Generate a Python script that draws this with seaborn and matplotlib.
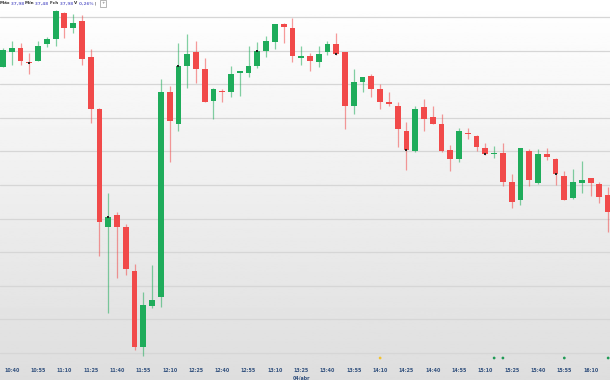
import numpy as np
import pandas as pd
import matplotlib
matplotlib.use("Agg")
import matplotlib.pyplot as plt
import seaborn as sns

# ---------------- data (5-minute candles, 04/abr) ----------------
opens = [37.876, 37.898, 37.904, 37.883, 37.885, 37.910, 37.917, 37.956, 37.934, 37.944,
         37.891, 37.813, 37.638, 37.655, 37.638, 37.572, 37.459, 37.520, 37.533, 37.838,
         37.791, 37.877, 37.898, 37.873, 37.825, 37.840, 37.838, 37.867, 37.867, 37.877,
         37.899, 37.913, 37.940, 37.934, 37.889, 37.892, 37.883, 37.898, 37.910, 37.898,
         37.818, 37.853, 37.862, 37.843, 37.824, 37.818, 37.780, 37.751, 37.816, 37.801,
         37.791, 37.752, 37.739, 37.777, 37.773, 37.755, 37.746, 37.748, 37.704, 37.678,
         37.751, 37.703, 37.746, 37.739, 37.713, 37.681, 37.703, 37.710, 37.702, 37.685]
highs = [37.904, 37.914, 37.911, 37.896, 37.914, 37.920, 37.960, 37.957, 37.954, 37.953,
         37.902, 37.815, 37.688, 37.660, 37.642, 37.582, 37.541, 37.581, 37.858, 37.847,
         37.911, 37.925, 37.914, 37.889, 37.844, 37.843, 37.877, 37.868, 37.907, 37.913,
         37.922, 37.940, 37.941, 37.949, 37.907, 37.896, 37.907, 37.914, 37.926, 37.898,
         37.873, 37.861, 37.865, 37.850, 37.838, 37.824, 37.794, 37.818, 37.828, 37.818,
         37.806, 37.760, 37.785, 37.785, 37.774, 37.763, 37.758, 37.763, 37.716, 37.755,
         37.754, 37.754, 37.755, 37.740, 37.721, 37.724, 37.736, 37.710, 37.704, 37.697]
lows = [37.876, 37.879, 37.879, 37.865, 37.885, 37.905, 37.907, 37.919, 37.926, 37.879,
        37.792, 37.594, 37.510, 37.562, 37.566, 37.455, 37.446, 37.517, 37.518, 37.734,
        37.780, 37.844, 37.852, 37.824, 37.798, 37.824, 37.831, 37.832, 37.861, 37.874,
        37.891, 37.902, 37.911, 37.883, 37.879, 37.870, 37.876, 37.893, 37.893, 37.783,
        37.806, 37.838, 37.831, 37.813, 37.818, 37.757, 37.722, 37.749, 37.780, 37.791,
        37.749, 37.721, 37.734, 37.768, 37.751, 37.745, 37.740, 37.699, 37.666, 37.670,
        37.699, 37.702, 37.737, 37.700, 37.678, 37.679, 37.688, 37.684, 37.673, 37.630]
closes = [37.901, 37.904, 37.885, 37.881, 37.907, 37.917, 37.959, 37.934, 37.941, 37.888,
          37.813, 37.645, 37.652, 37.638, 37.575, 37.459, 37.521, 37.529, 37.838, 37.795,
          37.877, 37.895, 37.873, 37.824, 37.843, 37.838, 37.865, 37.868, 37.877, 37.899,
          37.914, 37.940, 37.935, 37.892, 37.892, 37.885, 37.895, 37.910, 37.895, 37.818,
          37.853, 37.861, 37.843, 37.824, 37.821, 37.783, 37.752, 37.813, 37.798, 37.791,
          37.751, 37.739, 37.780, 37.776, 37.757, 37.746, 37.748, 37.704, 37.675, 37.755,
          37.707, 37.746, 37.742, 37.716, 37.678, 37.704, 37.707, 37.703, 37.682, 37.660]

tick_labels = ["10:40", "10:55", "11:10", "11:25", "11:40", "11:55", "12:10", "12:25",
               "12:40", "12:55", "13:10", "13:25", "13:40", "13:55", "14:10", "14:25",
               "14:40", "14:55", "15:10", "15:25", "15:40", "15:55", "16:10"]
date_label = "04/abr"
date_label_time = "13:25"

# candles with a dark close marker
marked_candles = [3, 12, 20, 29, 38, 46, 55, 63]
# event markers under the axis
event_candles = [43, 56, 57, 64, 69]
event_kinds = ["warn", "ok", "ok", "ok", "ok"]

header = [("Máx ", "#333333"), ("37,98 ", "#6f6fd0"), ("Mín ", "#333333"),
          ("37,48 ", "#6f6fd0"), ("Fch ", "#333333"), ("37,98 ", "#6f6fd0"),
          ("V ", "#333333"), ("0,26% ", "#6f6fd0"), ("|", "#555555")]

# ---------------- build table ----------------
times = pd.date_range("10:35", periods=len(opens), freq="5min").strftime("%H:%M").tolist()
df = pd.DataFrame({"time": times, "open": opens, "high": highs, "low": lows, "close": closes})
df["idx"] = np.arange(len(df))
df["up"] = df["close"] >= df["open"]

GREEN = "#1fac5b"
RED = "#f14a4a"

sns.set_theme(style="white")
plt.rcParams["font.family"] = ["DejaVu Sans"]

W, H = 610, 380
fig = plt.figure(figsize=(W / 100, H / 100), dpi=100)

# background gradient
bg = fig.add_axes([0, 0, 1, 1])
grad = np.linspace(1.0, 0.87, 256).reshape(-1, 1)
bg.imshow(grad, aspect="auto", cmap="gray", vmin=0, vmax=1, extent=[0, 1, 0, 1])
bg.set_axis_off()

ax_bottom_px = 362
ax = fig.add_axes([0, 1 - ax_bottom_px / H, 1, ax_bottom_px / H])
ax.patch.set_alpha(0)

px = 0.05 / 33.6  # price per pixel
y_top = 37.95 + 17 * px
y_bot = y_top - ax_bottom_px * px
ax.set_ylim(y_bot, y_top)
ax.set_xlim(-0.34, 69.21)

ax.set_yticks(np.arange(37.45, 37.96, 0.05))
ax.yaxis.grid(True, color="#d6d6d6", lw=0.9)
ax.xaxis.grid(False)
ax.set_axisbelow(True)
ax.tick_params(axis="y", length=0, labelleft=False)
for s in ax.spines.values():
    s.set_visible(False)

colors = np.where(df["up"], GREEN, RED)
# wicks
ax.vlines(df["idx"], df["low"], df["high"], colors=colors, lw=0.9, alpha=0.55, zorder=2)
# bodies
body_bottom = np.minimum(df["open"], df["close"])
body_h = np.maximum(np.abs(df["close"] - df["open"]), 1.4 * px)
ax.bar(df["idx"], body_h, bottom=body_bottom, width=0.66, color=colors, lw=0, zorder=3)

# dark close markers
mk = df.iloc[marked_candles]
sns.scatterplot(x=mk["idx"], y=mk["close"], ax=ax, color="#222222", marker="s",
                s=2.5, linewidth=0, zorder=4, legend=False)

# event dots under the chart
ev = pd.DataFrame({"idx": event_candles, "kind": event_kinds})
ev["y"] = y_bot + 4 * px
sns.scatterplot(data=ev, x="idx", y="y", hue="kind", palette={"warn": "#f2c230", "ok": "#1f9a55"},
                s=4, linewidth=0, ax=ax, legend=False, zorder=4, clip_on=False)

tick_pos = [times.index(t) for t in tick_labels]
ax.set_xticks(tick_pos)
ax.set_xticklabels(tick_labels, fontsize=3.4, color="#31507d", fontweight="bold")
ax.tick_params(axis="x", length=0, pad=4.2)
ax.set_xlabel("")
ax.set_ylabel("")

# date label under 13:25
xd = times.index(date_label_time)
ax.annotate(date_label, xy=(xd, 0), xycoords=("data", "axes fraction"),
            xytext=(0, -15.5), textcoords="offset pixels", ha="center", va="center",
            fontsize=3.4, color="#31507d", fontweight="bold", annotation_clip=False)

# header
x0 = 0
for txt, col in header:
    t = fig.text(x0 / W, 1 - 3.5 / H, txt, fontsize=3.0, fontweight="bold", color=col,
                 ha="left", va="center")
    fig.canvas.draw()
    bb = t.get_window_extent()
    x0 += bb.width
fig.text((x0 + 7) / W, 1 - 3.5 / H, "+", fontsize=3.2, color="#666666", ha="center", va="center",
         bbox=dict(boxstyle="square,pad=0.3", fc="white", ec="#999999", lw=0.5))

fig.savefig("out.png", dpi=100)
